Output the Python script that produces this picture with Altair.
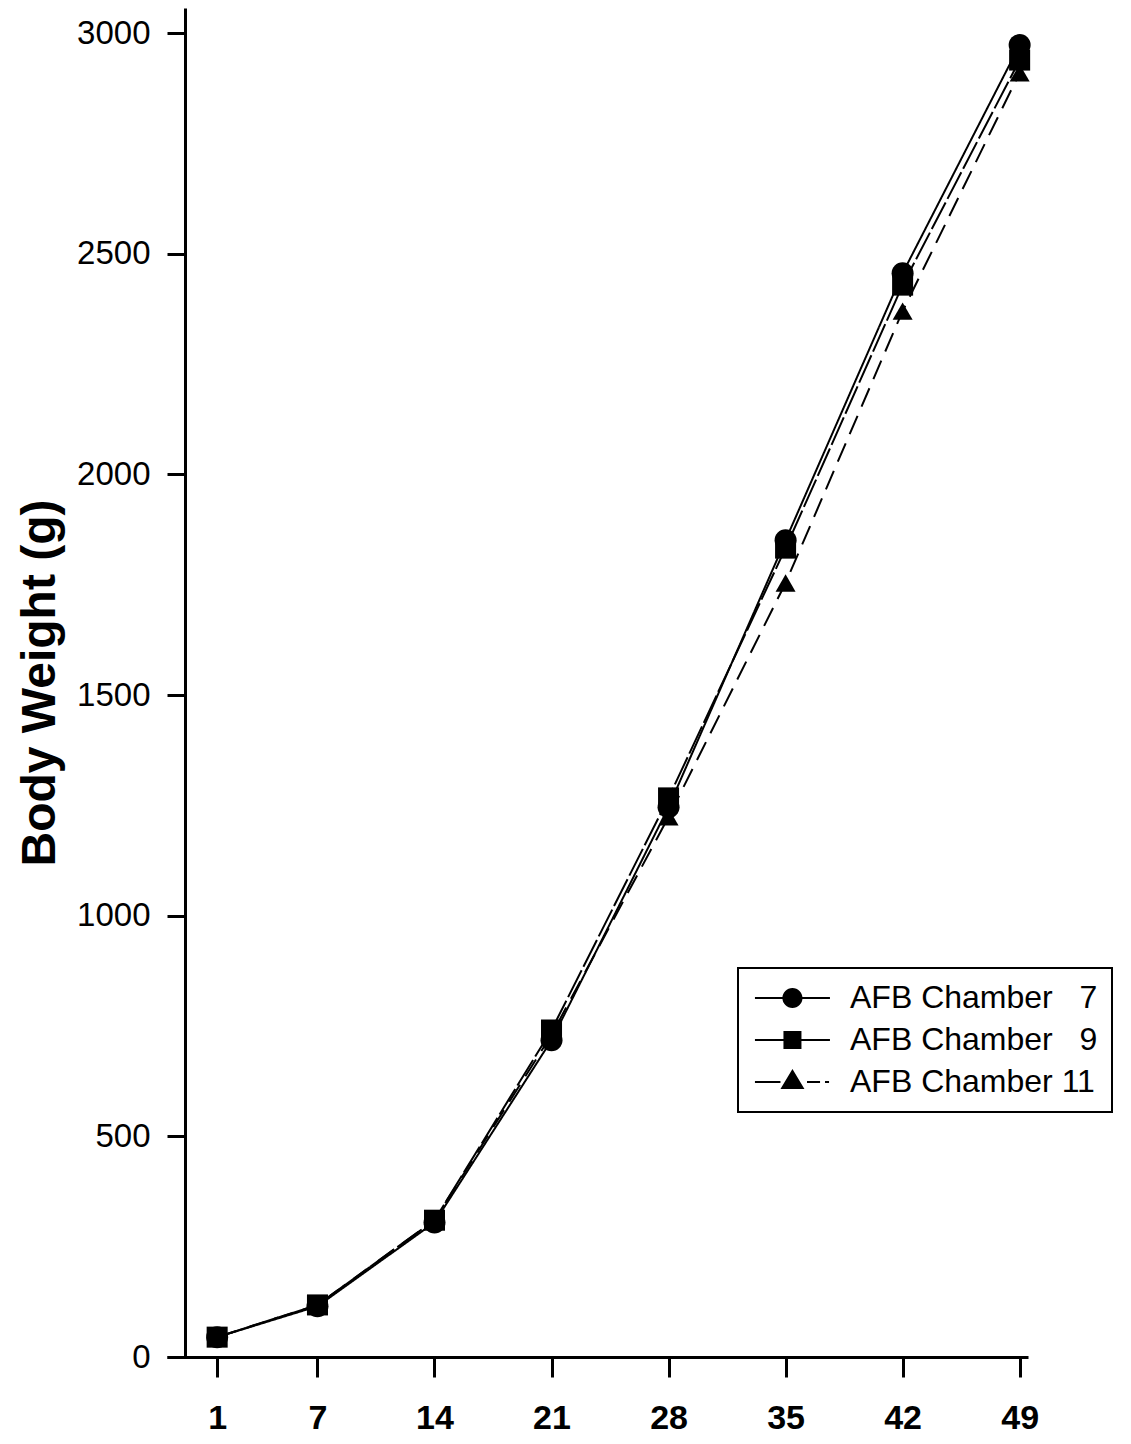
import altair as alt
import pandas as pd

days = [1, 7, 14, 21, 28, 35, 42, 49]
series_names = ["AFB Chamber 7", "AFB Chamber 9", "AFB Chamber 11"]
legend_labels = ["AFB Chamber \u20077", "AFB Chamber \u20079", "AFB Chamber 11"]
ch7 = [45, 115, 305, 718, 1246, 1851, 2456, 2973]
ch9 = [45, 118, 310, 741, 1267, 1833, 2429, 2939]
ch11 = [45, 118, 310, 730, 1224, 1754, 2370, 2910]
y_ticks = [0, 500, 1000, 1500, 2000, 2500, 3000]

rows = []
for name, lab, vals in zip(series_names, legend_labels, [ch7, ch9, ch11]):
    for d, v in zip(days, vals):
        rows.append({"day": d, "weight": v, "series": name, "legend": lab})
df = pd.DataFrame(rows)

FONT = "Liberation Sans"

x = alt.X("day:Q", scale=alt.Scale(domain=[-2, 49.5], nice=False, zero=False),
          axis=alt.Axis(values=days, title=None, labelFontSize=34, labelFontWeight="bold",
                        labelFont=FONT, tickSize=20, labelPadding=24, labelFlush=False))
y = alt.Y("weight:Q", scale=alt.Scale(domain=[0, 3057], nice=False),
          axis=alt.Axis(values=y_ticks, format="d", title="Body Weight (g)", titleFontSize=48,
                        titleFontWeight="bold", titleFont=FONT, labelFont=FONT,
                        labelFontSize=33, tickSize=18, labelPadding=17, titlePadding=12,
                        offset=-18, labelFlush=False))

lines = alt.Chart(df).mark_line(color="black", strokeWidth=2).encode(
    x=x, y=y,
    detail="series:N",
    strokeDash=alt.StrokeDash("series:N", scale=alt.Scale(domain=series_names,
                              range=[[1, 0], [30, 4], [20, 10]]), legend=None),
)

points = alt.Chart(df).mark_point(filled=True, color="black", opacity=1).encode(
    x=x, y=y,
    shape=alt.Shape("series:N", scale=alt.Scale(domain=series_names,
                    range=["circle", "square", "triangle-up"]), legend=None),
    size=alt.Size("series:N", scale=alt.Scale(domain=series_names, range=[484, 400, 560]),
                  legend=None),
)

# legend glyphs: line segments drawn as thin filled bars plus the marker
legend_paths = [
    "M-0.87,-0.07H4.13V0.07H-0.87Z M0.96,0A0.67,0.67,0,1,1,2.3,0A0.67,0.67,0,1,1,0.96,0Z",
    "M-0.87,-0.07H4.13V0.07H-0.87Z M1.03,-0.6H2.23V0.6H1.03Z",
    "M-0.87,-0.07H0.83V0.07H-0.87Z M2.6,-0.07H3.47V0.07H2.6Z M3.8,-0.07H4.07V0.07H3.8Z M1.63,-0.87L2.43,0.47L0.83,0.47Z",
]

legend_layer = alt.Chart(df).transform_filter("datum.day < 0").mark_point(
    filled=True, color="black", opacity=1
).encode(
    x=x, y=y,
    shape=alt.Shape("legend:N", scale=alt.Scale(domain=legend_labels, range=legend_paths),
                    legend=alt.Legend(title=None, orient="none", legendX=571, legendY=960,
                                      symbolSize=900, symbolStrokeWidth=0,
                                      symbolFillColor="black", symbolOpacity=1,
                                      labelFont=FONT, labelFontSize=32, labelColor="black",
                                      labelLimit=500, labelOffset=66, padding=14,
                                      rowPadding=10, strokeColor="black")),
)

chart = alt.layer(lines, points, legend_layer).resolve_scale(
    shape="independent"
).properties(
    width=861, height=1349,
    autosize=alt.AutoSizeParams(type="none"),
    padding={"left": 159, "top": 0, "right": 95, "bottom": 79},
).configure_view(strokeWidth=0).configure_axis(
    grid=False, domainColor="black", domainWidth=3, tickColor="black", tickWidth=3,
    labelColor="black", titleColor="black"
).configure_legend(strokeWidth=2)

chart.save("out.html", embed_options={"renderer": "svg", "actions": False})
